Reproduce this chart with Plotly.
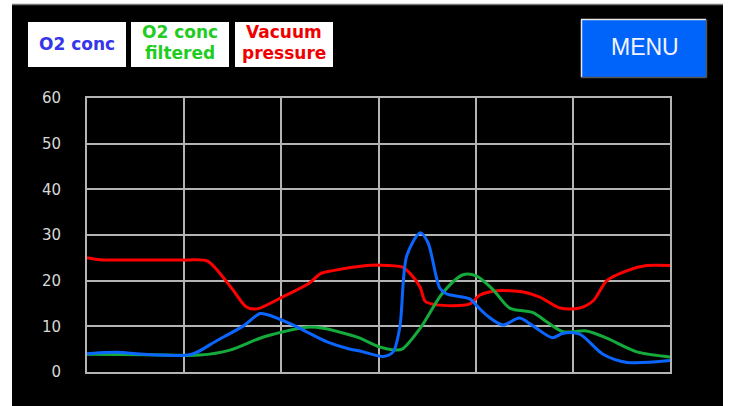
import plotly.graph_objects as go

# ---- data ----
t_red = [0, 1.3, 10, 12.4, 15.0, 16.3, 17.1, 17.8, 20.1, 22.9, 24.0, 25.3, 28.8, 30.1, 32.4, 33.2,
         34.3, 34.8, 36.0, 39.4, 40.4, 42.2, 44.9, 46.6, 48.7, 50.7, 52.1, 53.5, 55.6, 57.6, 60]
vacuum = [25.0, 24.6, 24.5, 24.3, 18.0, 14.4, 13.8, 14.0, 16.4, 19.5, 21.5, 22.2, 23.3, 23.4, 23.0, 21.7,
          18.5, 15.5, 14.7, 14.9, 16.8, 17.8, 17.5, 16.4, 14.0, 14.0, 15.6, 20.0, 22.2, 23.3, 23.3]

t_blue = [0, 3.0, 6.5, 10.8, 13.3, 16.1, 17.8, 18.5, 21.2, 22.6, 24.7, 27.1, 28.1, 30.5, 31.5, 32.2,
          32.9, 34.3, 35.1, 36.3, 37.0, 39.4, 40.2, 41.2, 42.8, 44.5, 45.9, 47.9, 49.0, 50.7, 53.1, 55.6, 60]
o2_conc = [4.0, 4.3, 3.8, 3.9, 6.8, 10.1, 12.8, 12.6, 10.3, 8.8, 6.6, 5.0, 4.6, 3.4, 4.4, 9.9,
           25.4, 30.5, 28.3, 18.4, 17.1, 16.0, 14.3, 12.3, 10.3, 11.8, 10.1, 7.5, 8.5, 8.3, 3.9, 2.1, 2.5]

t_green = [0, 6.5, 11.6, 14.7, 17.8, 20.2, 22.6, 24.3, 27.1, 28.1, 30.1, 31.9, 32.5, 34.3, 36.6, 38.7,
           40.1, 41.8, 43.5, 45.9, 47.3, 49.0, 51.4, 53.5, 56.6, 60]
o2_filtered = [3.9, 3.8, 3.7, 4.8, 7.4, 8.8, 9.8, 9.6, 8.1, 7.4, 5.5, 4.8, 5.1, 9.6, 17.3, 21.3,
               21.0, 18.0, 14.0, 13.0, 11.0, 8.8, 9.0, 7.4, 4.4, 3.3]

y_ticks = [0, 10, 20, 30, 40, 50, 60]

legend_items = [("O2 conc", None, "#3535ea"),
                ("O2 conc", "filtered", "#1fcc1f"),
                ("Vacuum", "pressure", "#f00000")]

# ---- layout geometry (pixels) ----
W, H = 729, 406
PL, PR, PT, PB = 87, 670, 98, 372


def fx(px):
    return (px - PL) / (PR - PL)


def fy(py):
    return (PB - py) / (PB - PT)


fig = go.Figure()
fig.add_trace(go.Scatter(x=t_red, y=vacuum, mode="lines", name="Vacuum pressure",
                         line=dict(color="#ff0000", width=3, shape="spline", smoothing=0.8)))
fig.add_trace(go.Scatter(x=t_green, y=o2_filtered, mode="lines", name="O2 conc filtered",
                         line=dict(color="#14ab3c", width=3, shape="spline", smoothing=0.8)))
fig.add_trace(go.Scatter(x=t_blue, y=o2_conc, mode="lines", name="O2 conc",
                         line=dict(color="#0a66ff", width=3, shape="spline", smoothing=0.8)))

shapes = []
# black panel
shapes.append(dict(type="rect", xref="paper", yref="paper", layer="below",
                   x0=fx(12), x1=fx(723), y0=fy(407), y1=fy(4),
                   fillcolor="black", line=dict(width=0)))
shapes.append(dict(type="line", xref="paper", yref="paper",
                   x0=fx(12), x1=fx(723), y0=fy(4.5), y1=fy(4.5),
                   line=dict(color="#777777", width=1.5)))

annotations = []
boxes = [(28, 126), (131, 229), (235, 333)]
for (x0, x1), (l1, l2, col) in zip(boxes, legend_items):
    shapes.append(dict(type="rect", xref="paper", yref="paper",
                       x0=fx(x0), x1=fx(x1), y0=fy(67), y1=fy(22),
                       fillcolor="white", line=dict(width=0)))
    cx = fx((x0 + x1) / 2)
    font = dict(family="DejaVu Sans", size=17, color=col, weight="bold")
    if l2 is None:
        annotations.append(dict(text=l1, xref="paper", yref="paper", x=cx, y=fy(44),
                                xanchor="center", yanchor="middle", showarrow=False, font=font))
    else:
        annotations.append(dict(text=l1, xref="paper", yref="paper", x=cx, y=fy(31.5),
                                xanchor="center", yanchor="middle", showarrow=False, font=font))
        annotations.append(dict(text=l2, xref="paper", yref="paper", x=cx, y=fy(53.5),
                                xanchor="center", yanchor="middle", showarrow=False, font=font))

# MENU button
shapes.append(dict(type="rect", xref="paper", yref="paper",
                   x0=fx(581), x1=fx(706), y0=fy(77.5), y1=fy(19.5),
                   fillcolor="#0064fa", line=dict(width=0)))
shapes.append(dict(type="line", xref="paper", yref="paper", x0=fx(581), x1=fx(706),
                   y0=fy(19.5), y1=fy(19.5), line=dict(color="#e8e8e8", width=1.5)))
shapes.append(dict(type="line", xref="paper", yref="paper", x0=fx(581.5), x1=fx(581.5),
                   y0=fy(19.5), y1=fy(77.5), line=dict(color="#e8e8e8", width=1.5)))
shapes.append(dict(type="line", xref="paper", yref="paper", x0=fx(581), x1=fx(706.5),
                   y0=fy(77.5), y1=fy(77.5), line=dict(color="#555555", width=1.5)))
shapes.append(dict(type="line", xref="paper", yref="paper", x0=fx(706.5), x1=fx(706.5),
                   y0=fy(19.5), y1=fy(77.5), line=dict(color="#555555", width=1.5)))
annotations.append(dict(text="MENU", xref="paper", yref="paper", x=fx(645), y=fy(47),
                        xanchor="center", yanchor="middle", showarrow=False,
                        font=dict(family="Liberation Sans", size=23, color="#f4f4ff")))

grid_col = "#b4b4b4"
fig.update_layout(
    width=W, height=H,
    margin=dict(l=PL, r=W - PR, t=PT, b=H - PB, pad=0),
    paper_bgcolor="white",
    plot_bgcolor="black",
    showlegend=False,
    hovermode=False,
    shapes=shapes,
    annotations=annotations,
    xaxis=dict(range=[0, 60], dtick=10, tick0=0, showticklabels=False, showgrid=True,
               gridcolor=grid_col, gridwidth=2, zeroline=False, showline=True, mirror=True,
               linecolor=grid_col, linewidth=2, ticks=""),
    yaxis=dict(range=[0, 60], tickvals=y_ticks, ticktext=[str(v) for v in y_ticks],
               showgrid=True, gridcolor=grid_col, gridwidth=2, zeroline=False,
               showline=True, mirror=True, linecolor=grid_col, linewidth=2,
               ticks="outside", ticklen=21, tickcolor="rgba(0,0,0,0)",
               tickfont=dict(family="DejaVu Sans", size=15, color="#d8d8d8")),
)

fig.write_html("out.html", config={"displayModeBar": False},
               post_script="document.body.style.margin='0';")
